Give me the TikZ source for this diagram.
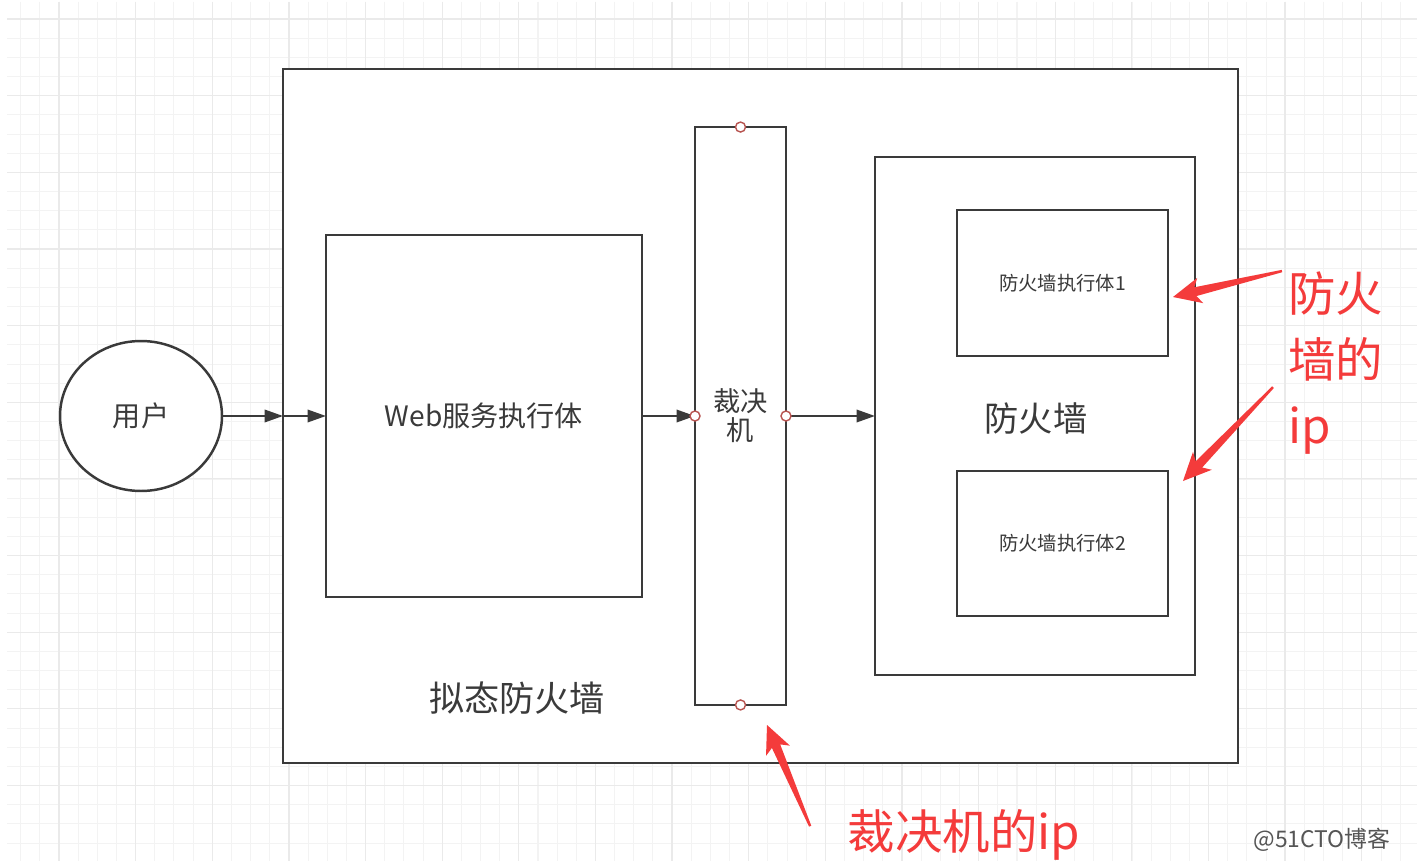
\documentclass[tikz,border=0pt]{standalone}
\usepackage{fontspec}
\setmainfont{Noto Sans CJK SC}
\usetikzlibrary{arrows.meta,shapes.geometric}
\definecolor{linec}{HTML}{3A3A3A}
\definecolor{textc}{HTML}{3A3A3A}
\definecolor{redc}{HTML}{F43B3B}
\definecolor{portc}{HTML}{B85450}
\definecolor{gridminor}{HTML}{F3F3F3}
\definecolor{gridmajor}{HTML}{EAEAEA}
\definecolor{wmc}{HTML}{555555}
% tapered red annotation arrow: tip x, tip y, angle, length
\newcommand\redarrow[4]{%
  \begin{scope}[shift={(#1,#2)},rotate=#3]
    \fill[redc] (0,0) -- (28,13) -- (23,4.5) -- (#4,1.2) -- (#4,-1.2) -- (23,-4.5) -- (28,-13) -- cycle;
  \end{scope}}
\begin{document}
\begin{tikzpicture}[x=0.02cm,y=-0.02cm,
  box/.style={draw=linec, line width=1.4pt, fill=white, rectangle, inner sep=0pt, outer sep=0pt, text=textc},
  lbl/.style={text=textc, inner sep=0pt},
  conn/.style={draw=linec, line width=1.4pt, -{Triangle[length=10.5pt,width=7pt]}},
  port/.style={circle, draw=portc, fill=white, line width=0.8pt, minimum size=0.2cm, inner sep=0pt},
  redtext/.style={text=redc, inner sep=0pt},
  gminor/.style={draw=gridminor, line width=0.6pt},
  gmajor/.style={draw=gridmajor, line width=0.7pt}]
% canvas
\fill[white] (0,0) rectangle (1425,861);
\useasboundingbox (0,0) rectangle (1425,861);
\begin{scope}
  \clip (7,2) rectangle (1417,861);
  \foreach \k in {1,...,73} \draw[gminor] ({1.52+19.16*\k},2) -- ++(0,859);
  \foreach \k in {1,...,44} \draw[gminor] (7,{19.16*\k}) -- ++(1410,0);
  \foreach \k in {0,...,17} \draw[gmajor] ({59+76.63*\k},2) -- ++(0,859);
  \foreach \k in {0,...,10} \draw[gmajor] (7,{19.07+76.63*\k}) -- ++(1410,0);
\end{scope}
% nodes
\node[box, minimum width=19.1cm, minimum height=13.88cm] (outer) at (760.5,416) {};
\node[draw=linec, ellipse, fill=white, line width=1.4pt, minimum width=3.24cm, minimum height=3cm, inner sep=0pt, text=textc, font=\fontsize{16}{19}\selectfont] (user) at (141,416) {用户};
\node[box, minimum width=6.32cm, minimum height=7.24cm, font=\fontsize{16}{19}\selectfont] (web) at (484,416) {Web服务执行体};
\node[box, minimum width=1.82cm, minimum height=11.56cm, align=center, font=\fontsize{15.5}{16.5}\selectfont] (judge) at (740.5,416) {裁决\\机};
\node[box, minimum width=6.4cm, minimum height=10.36cm] (fw) at (1035,416) {};
\node[lbl, font=\fontsize{19.5}{23}\selectfont] (fwlabel) at (1036,418) {防火墙};
\node[box, minimum width=4.22cm, minimum height=2.92cm, font=\fontsize{11}{13}\selectfont] (fw1) at (1062.5,283) {防火墙执行体1};
\node[box, minimum width=4.22cm, minimum height=2.9cm, font=\fontsize{11}{13}\selectfont] (fw2) at (1062.5,543.5) {防火墙执行体2};
\node[lbl, font=\fontsize{20}{24}\selectfont] (mimic) at (517,698) {拟态防火墙};
% connectors
\coordinate (entry) at (user.east -| outer.west);
\draw[conn] (user.east) -- (entry);
\draw[conn] (entry) -- (web.west);
\draw[conn] (web.east) -- (judge.west);
\draw[conn] (judge.east) -- (fw.west);
% ports
\node[port] (pn) at (judge.north) {};
\node[port] (pw) at (judge.west) {};
\node[port] (pe) at (judge.east) {};
\node[port] (ps) at (judge.south) {};
% annotations
\redarrow{1173}{297}{13.4}{112}
\redarrow{1183}{481}{46.2}{130}
\redarrow{767}{725}{-66.9}{110}
\node[redtext, align=left, anchor=west, font=\fontsize{27}{37.5}\selectfont] (fwip) at (1288,363) {防火\\墙的\\ip};
\node[redtext, font=\fontsize{27}{32}\selectfont] (judgeip) at (964,835) {裁决机的ip};
\node[text=wmc, inner sep=0pt, font=\fontsize{13}{15}\selectfont] (wm) at (1322,840) {@51CTO博客};
\end{tikzpicture}
\end{document}
